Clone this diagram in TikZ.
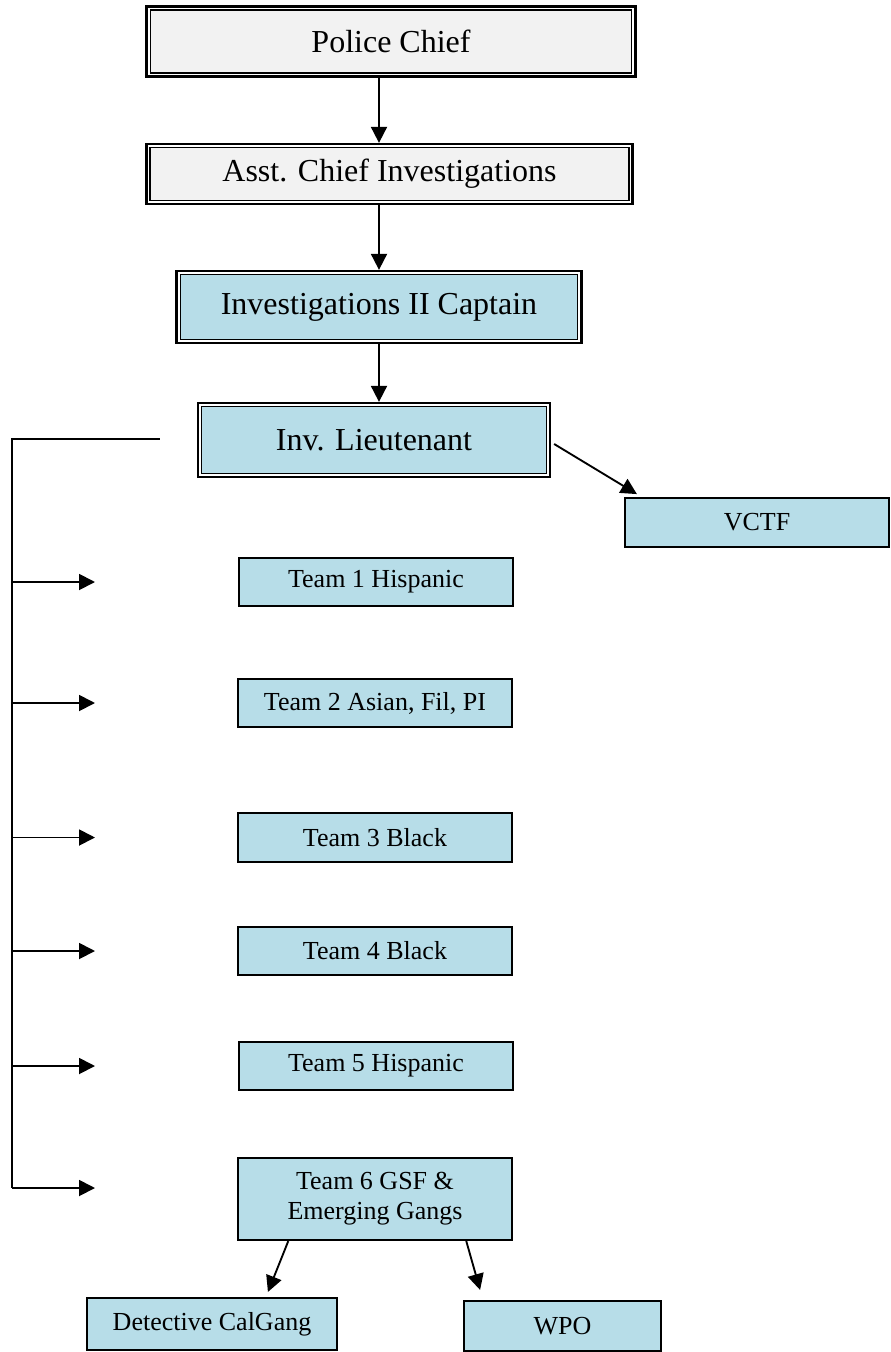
\documentclass[tikz,border=0pt]{standalone}
\usepackage{fontspec}
\setmainfont{Liberation Serif}
\usetikzlibrary{arrows.meta,calc}
\definecolor{chiefgray}{HTML}{F2F2F2}
\definecolor{teamblue}{HTML}{B7DDE8}

\begin{document}
\begin{tikzpicture}[x=0.75pt,y=-0.75pt,
	dblbox/.style={draw,line width=0.9pt,double=white,double distance=1.4pt,outer sep=2.6pt,inner sep=0pt,align=center,font=\fontsize{24}{28}\selectfont},
	unitbox/.style={draw,line width=1.6pt,fill=teamblue,inner sep=0pt,minimum width=205pt,minimum height=36.5pt,align=center,font=\fontsize{19.5}{22.5}\selectfont},
	arr/.style={line width=1.4pt,-{Triangle[length=12pt,width=12pt]}}]
	\useasboundingbox (0,0) rectangle (890,1352);
	\clip (0,0) rectangle (890,1352);

	% command chain
	\node[dblbox,fill=chiefgray,minimum width=363.5pt,minimum height=49.5pt] (pchief) at (391,41.5) {Police Chief};
	\node[dblbox,fill=chiefgray,minimum width=361.5pt,minimum height=41.5pt] (achief) at (389.5,174) {Asst. Chief Investigations};
	\node[dblbox,fill=teamblue,minimum width=300.5pt,minimum height=50.5pt] (captain) at (379,307) {Investigations II Captain};
	\node[dblbox,fill=teamblue,minimum width=260.5pt,minimum height=52pt] (lieut) at (374,440) {Inv. Lieutenant};

	% thicker outer line of the double frames
	\foreach \b in {pchief,achief,captain,lieut}
		\draw[line width=1pt] ([shift={(0.5pt,-0.5pt)}]\b.north west) rectangle ([shift={(-0.5pt,0.5pt)}]\b.south east);

	\draw[arr] (pchief.south -| captain.center) -- (achief.north -| captain.center);
	\draw[arr] (achief.south -| captain.center) -- (captain.north);
	\draw[arr] (captain.south) -- (lieut.north -| captain.center);

	% VCTF
	\node[unitbox,minimum width=198pt] (vctf) at (757,522.5) {VCTF};
	\draw[arr] ($(lieut.east)+(3,4)$) -- ($(vctf.north west)+(13,-3)$);

	% teams
	\node[unitbox] (team1) at (376,582) {Team 1 Hispanic};
	\node[unitbox] (team2) at (375,703) {Team 2 Asian, Fil, PI};
	\node[unitbox] (team3) at (375,837.5) {Team 3 Black};
	\node[unitbox] (team4) at (375,951) {Team 4 Black};
	\node[unitbox] (team5) at (376,1066) {Team 5 Hispanic};
	\node[unitbox,minimum height=61.5pt] (team6) at (375,1199) {Team 6 GSF \&\\Emerging Gangs};

	% bracket from the lieutenant
	\coordinate (spine) at (12,439);
	\coordinate (spineend) at (12,1188);
	\draw[line width=1.4pt] ($(lieut.west)+(-37,-1)$) -- (spine) -- (spineend);
	\foreach \t in {team1,team2,team3,team4,team5}
		\draw[arr] (spine |- \t.west) -- ++(83,0);
	\draw[arr] (spineend) -- ++(83,0);

	% under team 6
	\node[unitbox,minimum width=187.5pt,minimum height=39pt] (calgang) at (212,1324) {Detective CalGang};
	\node[unitbox,minimum width=147.5pt,minimum height=37.5pt] (wpo) at (562.5,1326) {WPO};
	\draw[arr] ($(team6.south west)+(51,0)$) -- ($(calgang.north west)+(182,-5)$);
	\draw[arr] ($(team6.south west)+(229,0)$) -- ($(wpo.north west)+(17,-10)$);

\end{tikzpicture}
\end{document}
